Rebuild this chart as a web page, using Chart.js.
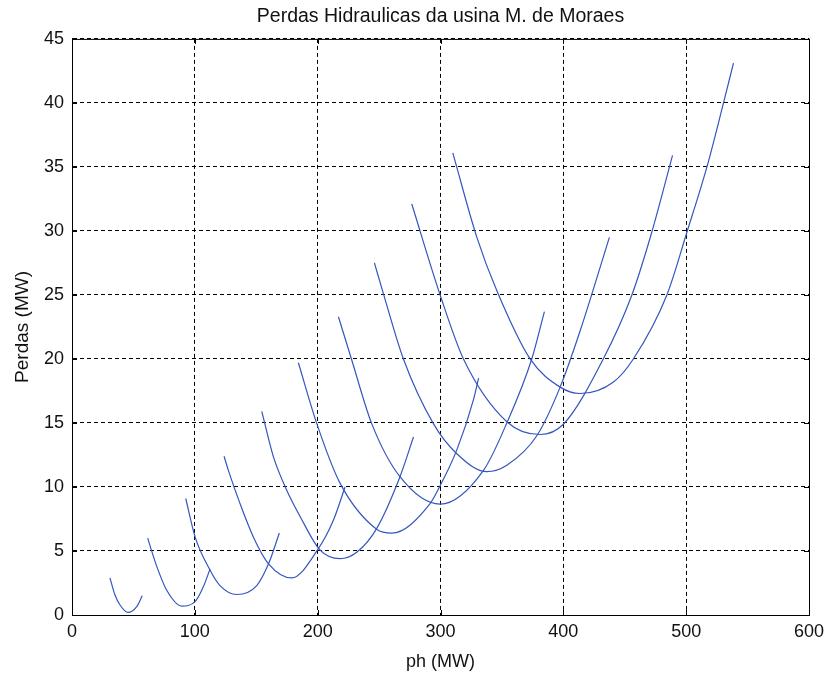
<!DOCTYPE html>
<html>
<head>
<meta charset="utf-8">
<script src="https://cdn.jsdelivr.net/npm/chart.js@4/dist/chart.umd.min.js"></script>
<style>
  html, body { margin: 0; padding: 0; background: #fff; }
  #wrap { width: 827px; height: 673px; }
</style>
</head>
<body>
<div id="wrap"><canvas id="perdasChart" width="827" height="673"></canvas></div>
<script>
// ========================================
// Dados (ph em MW, perdas em MW)
// ========================================
const ph1 = [30.9, 35, 39.1, 45.6, 52.7, 57.2];
const perdas1 = [2.9, 1.56, 0.78, 0.2, 0.65, 1.5];

const ph2 = [61.6, 69, 77, 89.3, 100.2, 106.9, 112.4];
const perdas2 = [6.0, 3.8, 1.95, 0.7, 1.04, 2.2, 3.6];

const ph3 = [92.6, 100.2, 112.4, 120.5, 134.1, 150.4, 160, 168.8];
const perdas3 = [9.1, 6.1, 3.5, 2.3, 1.6, 2.3, 4.0, 6.4];

const ph4 = [123.8, 127.3, 136.8, 147.6, 160, 178.9, 200, 212.8, 222.3];
const perdas4 = [12.4, 11.3, 8.7, 6.1, 4.0, 2.9, 5.1, 7.4, 10.0];

const ph5 = [154.5, 164, 174.8, 185.7, 202, 218.2, 231.8, 248, 267, 278];
const perdas5 = [15.9, 12.35, 9.75, 7.7, 5.07, 4.4, 4.9, 6.75, 10.8, 13.9];

const ph6 = [184.3, 199.3, 218.2, 248, 260.3, 291.5, 299.7, 313.3, 326.8, 331];
const perdas6 = [19.7, 14.95, 10.3, 6.7, 6.4, 8.7, 10.1, 12.9, 16.8, 18.5];

const ph7 = [216.9, 227.8, 244, 267, 299.7, 335, 354, 374.3, 384.6];
const perdas7 = [23.3, 19.9, 14.95, 10.8, 8.66, 11.3, 15.0, 20.0, 23.7];

const ph8 = [246.2, 253.5, 269.8, 294.2, 313.3, 337.7, 354, 378.4, 397.4, 413.7, 437.5];
const perdas8 = [27.5, 25.1, 20.0, 14.95, 12.6, 11.2, 11.7, 14.0, 17.8, 22.2, 29.5];

const ph9 = [276.6, 299.7, 318.7, 354, 381, 400, 432.5, 455.8, 472, 488.9];
const perdas9 = [32.1, 25.0, 20.0, 15.1, 14.1, 14.9, 20.0, 25.0, 29.9, 35.9];

const ph10 = [310, 329.6, 345.8, 373, 397.4, 413.7, 440.8, 457, 484.3, 500.6, 516.9, 530.4, 538.5];
const perdas10 = [36.1, 29.5, 25.35, 20.0, 17.8, 17.3, 18.2, 20.0, 25.0, 29.9, 35.0, 40.0, 43.1];

const xTicks = [0, 100, 200, 300, 400, 500, 600];
const yTicks = [0, 5, 10, 15, 20, 25, 30, 35, 40, 45];

const curvasPh = [ph1, ph2, ph3, ph4, ph5, ph6, ph7, ph8, ph9, ph10];
const curvasPerdas = [perdas1, perdas2, perdas3, perdas4, perdas5, perdas6, perdas7, perdas8, perdas9, perdas10];

const FONT = { family: '"Liberation Sans", Arial, sans-serif', size: 18 };
const LINE_COLOR = '#3556bd';

const datasets = curvasPh.map((xs, i) => ({
  label: 'unidades ' + (i + 1),
  data: xs.map((x, j) => ({ x: x, y: curvasPerdas[i][j] })),
  showLine: true,
  borderColor: LINE_COLOR,
  borderWidth: 1.2,
  pointRadius: 0,
  cubicInterpolationMode: 'monotone',
  fill: false
}));

// Moldura estilo MATLAB: caixa fechada e marcas de escala para dentro
const boxPlugin = {
  id: 'boxPlugin',
  afterDraw(chart) {
    const { ctx, chartArea: a, scales } = chart;
    const len = 5;
    ctx.save();
    ctx.strokeStyle = '#000';
    ctx.lineWidth = 1;
    ctx.setLineDash([]);
    ctx.strokeRect(a.left + 0.5, a.top + 0.5, a.right - a.left, a.bottom - a.top);
    ctx.beginPath();
    scales.x.ticks.forEach(t => {
      const px = Math.round(scales.x.getPixelForValue(t.value)) + 0.5;
      ctx.moveTo(px, a.bottom); ctx.lineTo(px, a.bottom - len);
      ctx.moveTo(px, a.top); ctx.lineTo(px, a.top + len);
    });
    scales.y.ticks.forEach(t => {
      const py = Math.round(scales.y.getPixelForValue(t.value)) + 0.5;
      ctx.moveTo(a.left, py); ctx.lineTo(a.left + len, py);
      ctx.moveTo(a.right, py); ctx.lineTo(a.right - len, py);
    });
    ctx.stroke();
    ctx.restore();
  }
};

new Chart(document.getElementById('perdasChart'), {
  type: 'scatter',
  data: { datasets: datasets },
  options: {
    responsive: false,
    animation: false,
    events: [],
    layout: { padding: { left: 0, right: 18, top: 0, bottom: 0 } },
    plugins: {
      legend: { display: false },
      tooltip: { enabled: false },
      title: {
        display: true,
        text: 'Perdas Hidraulicas da usina M. de Moraes',
        fullSize: false,
        color: '#111',
        font: { family: FONT.family, size: 19.5, weight: 'normal' },
        padding: { top: 5, bottom: 10.5 }
      }
    },
    scales: {
      x: {
        type: 'linear',
        min: 0,
        max: 600,
        afterFit: s => { s.height = 58; s.paddingLeft = 0; s.paddingRight = 0; },
        afterBuildTicks: s => { s.ticks = xTicks.map(v => ({ value: v })); },
        ticks: { color: '#111', font: FONT, padding: 6, maxRotation: 0 },
        grid: { color: '#000', lineWidth: 1, drawTicks: false },
        border: { color: '#000', dash: [4, 3] },
        title: { display: true, text: 'ph (MW)', color: '#111', font: FONT, padding: { top: 2, bottom: 0 } }
      },
      y: {
        type: 'linear',
        min: 0,
        max: 45,
        afterFit: s => { s.width = 72; s.paddingTop = 0; s.paddingBottom = 0; },
        afterBuildTicks: s => { s.ticks = yTicks.map(v => ({ value: v })); },
        ticks: { color: '#111', font: FONT, padding: 8 },
        grid: { color: '#000', lineWidth: 1, drawTicks: false },
        border: { color: '#000', dash: [4, 3] },
        title: { display: true, text: 'Perdas (MW)', color: '#111', font: { family: FONT.family, size: 19 }, padding: { top: 11, bottom: 0 } }
      }
    }
  },
  plugins: [boxPlugin]
});
</script>
</body>
</html>
